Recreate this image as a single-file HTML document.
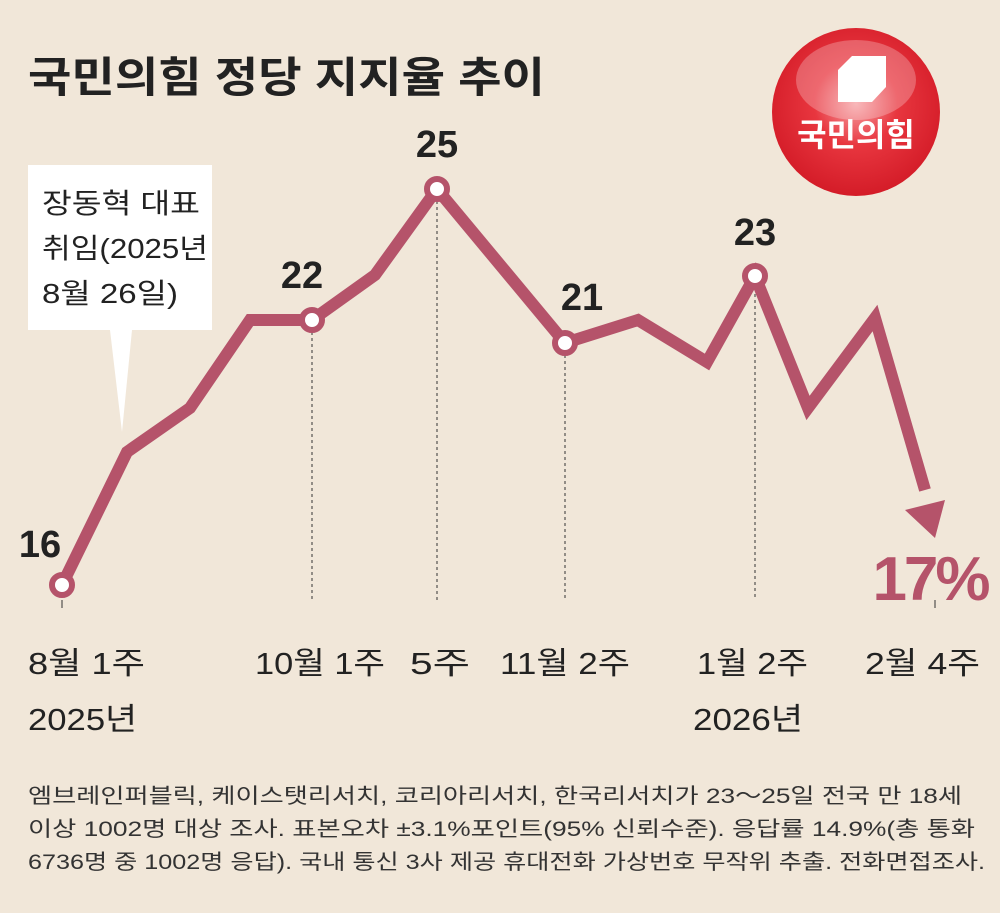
<!DOCTYPE html>
<html><head><meta charset="utf-8"><style>
body{margin:0;background:#f1e7d9;}
svg{display:block;font-family:"Liberation Sans","Noto Sans CJK KR",sans-serif;}
</style></head><body>
<svg width="1000" height="913" viewBox="0 0 1000 913">
<defs>
<radialGradient id="rg" cx="50%" cy="45%" r="55%">
<stop offset="0" stop-color="#f6a0a3"/><stop offset="0.45" stop-color="#e8363f"/><stop offset="1" stop-color="#d41c28"/>
</radialGradient>
</defs>
<rect width="1000" height="913" fill="#f1e7d9"/>
<text x="28" y="92" font-size="42" font-weight="bold" fill="#222" textLength="517" lengthAdjust="spacingAndGlyphs">국민의힘 정당 지지율 추이</text>
<circle cx="856" cy="112" r="84" fill="url(#rg)"/>
<ellipse cx="856" cy="80" rx="60" ry="40" fill="#fff" opacity="0.25"/>
<polygon points="852,56 886,56 886,87 872,102 838,102 838,70" fill="#fff"/>
<text x="856" y="146" font-size="32" font-weight="bold" fill="#fff" text-anchor="middle">국민의힘</text>
<g stroke="#333" stroke-width="1" stroke-dasharray="3,3">
<line x1="312" y1="320" x2="312" y2="600"/><line x1="437" y1="189" x2="437" y2="600"/>
<line x1="565" y1="343" x2="565" y2="600"/><line x1="755" y1="276" x2="755" y2="600"/>
</g>
<line x1="62" y1="600" x2="62" y2="608" stroke="#333"/><line x1="935" y1="600" x2="935" y2="608" stroke="#333"/>
<polygon points="28,165 212,165 212,330 132,330 122,432 110,330 28,330" fill="#fff"/>
<g font-size="28" fill="#222">
<text x="42" y="213" textLength="158" lengthAdjust="spacingAndGlyphs">장동혁 대표</text>
<text x="42" y="258" textLength="166" lengthAdjust="spacingAndGlyphs">취임(2025년</text>
<text x="42" y="303" textLength="136" lengthAdjust="spacingAndGlyphs">8월 26일)</text>
</g>
<polyline points="62,585 127,452 190,408 250,320 312,320 375,275 437,189 565,343 638,320 707,362 755,276 808,408 875,318 925,490" fill="none" stroke="#b5536a" stroke-width="12" stroke-linejoin="miter"/>
<polygon points="905,510 945,500 935,538" fill="#b5536a"/>
<g fill="#fff" stroke="#b5536a" stroke-width="6">
<circle cx="62" cy="585" r="10"/><circle cx="312" cy="320" r="10"/><circle cx="437" cy="189" r="10"/><circle cx="565" cy="343" r="10"/><circle cx="755" cy="276" r="10"/>
</g>
<g font-size="38" font-weight="bold" fill="#222" text-anchor="middle">
<text x="40" y="557">16</text><text x="302" y="288">22</text><text x="437" y="157">25</text><text x="582" y="310">21</text><text x="755" y="245">23</text>
</g>
<text x="930" y="600" font-size="62" font-weight="bold" fill="#b5536a" text-anchor="middle" letter-spacing="-3">17%</text>
<g font-size="31" fill="#222">
<text x="28" y="674" textLength="117" lengthAdjust="spacingAndGlyphs">8월 1주</text>
<text x="28" y="730" textLength="109" lengthAdjust="spacingAndGlyphs">2025년</text>
<text x="255" y="674" textLength="130" lengthAdjust="spacingAndGlyphs">10월 1주</text>
<text x="410" y="674" textLength="60" lengthAdjust="spacingAndGlyphs">5주</text>
<text x="500" y="674" textLength="130" lengthAdjust="spacingAndGlyphs">11월 2주</text>
<text x="697" y="674" textLength="111" lengthAdjust="spacingAndGlyphs">1월 2주</text>
<text x="693" y="730" textLength="110" lengthAdjust="spacingAndGlyphs">2026년</text>
<text x="865" y="674" textLength="115" lengthAdjust="spacingAndGlyphs">2월 4주</text>
</g>
<g font-size="21" fill="#333">
<text x="28" y="803" textLength="934" lengthAdjust="spacingAndGlyphs">엠브레인퍼블릭, 케이스탯리서치, 코리아리서치, 한국리서치가 23～25일 전국 만 18세</text>
<text x="28" y="836" textLength="947" lengthAdjust="spacingAndGlyphs">이상 1002명 대상 조사. 표본오차 ±3.1%포인트(95% 신뢰수준). 응답률 14.9%(총 통화</text>
<text x="28" y="869" textLength="957" lengthAdjust="spacingAndGlyphs">6736명 중 1002명 응답). 국내 통신 3사 제공 휴대전화 가상번호 무작위 추출. 전화면접조사.</text>
</g>
</svg>
</body></html>
